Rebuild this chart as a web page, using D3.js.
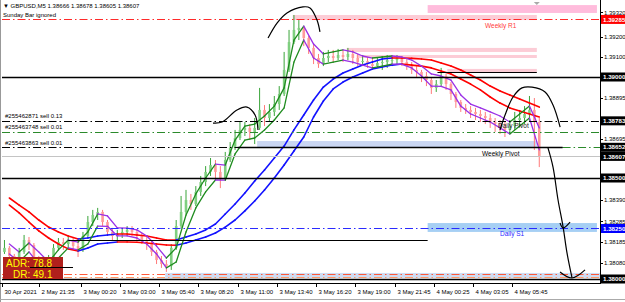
<!DOCTYPE html>
<html>
<head>
<meta charset="utf-8">
<script src="https://cdn.jsdelivr.net/npm/d3@7"></script>
<style>
html,body{margin:0;padding:0;background:#fff;overflow:hidden;}
svg{display:block;font-family:"Liberation Sans",Arial,sans-serif;}
</style>
</head>
<body>
<svg id="chart" width="625" height="302"></svg>
<script>
// ── GBPUSD M5 snapshot ──
// one candle = 4 five-minute bars (bar index 4k..4k+3); open = previous close
const firstOpen=1.38134;
const closes=[1.38154,1.38114,1.38084,1.38134,1.38193,1.38168,1.38104,1.38055,1.38045,1.38104,
1.38154,1.38183,1.38173,1.38193,1.38163,1.38144,1.38213,1.38282,1.38317,1.38332,
1.38282,1.38233,1.38213,1.38223,1.38233,1.38243,1.38233,1.38213,1.38193,1.38173,
1.38134,1.38094,1.38074,1.38064,1.38154,1.38262,1.38332,1.38391,1.38371,1.38431,
1.3848,1.3853,1.38564,1.3853,1.385,1.38589,1.38649,1.38698,1.38738,1.38748,
1.38728,1.38748,1.38837,1.38797,1.38827,1.38866,1.38916,1.39035,1.39173,1.39233,
1.39243,1.39193,1.39144,1.39094,1.39064,1.39094,1.39104,1.39094,1.39109,1.39099,
1.39114,1.39094,1.39074,1.39079,1.39064,1.39054,1.39069,1.39074,1.39084,1.39084,
1.39094,1.39074,1.39054,1.39035,1.39025,1.39005,1.38985,1.38946,1.38965,1.39005,
1.38965,1.38916,1.38876,1.38847,1.38837,1.38827,1.38817,1.38807,1.38797,1.38777,
1.38767,1.38748,1.38738,1.38757,1.38787,1.38797,1.38817,1.38837,1.38777,1.38607];
const highs=[1.38193,1.38163,1.38124,1.38154,1.38218,1.38208,1.38178,1.38114,1.38074,1.38119,
1.38173,1.38203,1.38203,1.38213,1.38203,1.38183,1.38233,1.38312,1.38342,1.38352,
1.38342,1.38292,1.38253,1.38243,1.38253,1.38262,1.38262,1.38243,1.38228,1.38213,
1.38193,1.38144,1.38114,1.38094,1.38173,1.38292,1.38411,1.38441,1.38421,1.3846,
1.3851,1.38559,1.38599,1.38589,1.38559,1.38629,1.38678,1.38738,1.38777,1.38777,
1.38767,1.38797,1.38946,1.38861,1.38866,1.38906,1.38955,1.39124,1.39233,1.39307,
1.39282,1.39252,1.39203,1.39163,1.39114,1.39124,1.39134,1.39134,1.39139,1.39134,
1.39144,1.39134,1.39114,1.39109,1.39099,1.39094,1.39099,1.39104,1.39109,1.39109,
1.39109,1.39104,1.39094,1.39074,1.39054,1.39035,1.39025,1.38995,1.38985,1.39045,
1.39015,1.38975,1.38926,1.38886,1.38866,1.38856,1.38847,1.38837,1.38827,1.38817,
1.38797,1.38787,1.38777,1.38787,1.38827,1.38837,1.38856,1.38906,1.38896,1.38797];
const lows=[1.38124,1.38084,1.38055,1.38074,1.38124,1.38144,1.38084,1.38035,1.38015,1.38035,
1.38094,1.38144,1.38144,1.38154,1.38144,1.38109,1.38134,1.38203,1.38262,1.38292,
1.38262,1.38213,1.38193,1.38193,1.38203,1.38213,1.38213,1.38193,1.38173,1.38144,
1.38114,1.38074,1.38055,1.38035,1.38045,1.38144,1.38253,1.38322,1.38342,1.38361,
1.38411,1.3846,1.3851,1.3849,1.3845,1.3849,1.38579,1.38639,1.38688,1.38708,
1.38688,1.38668,1.38738,1.38757,1.38777,1.38807,1.38837,1.38906,1.39025,1.39163,
1.39183,1.39153,1.39114,1.39064,1.39045,1.39054,1.39074,1.39074,1.39084,1.39074,
1.39084,1.39064,1.39054,1.39054,1.39045,1.39035,1.39045,1.39035,1.39045,1.39054,
1.39064,1.39054,1.39035,1.39015,1.38995,1.38975,1.38955,1.38916,1.38926,1.38955,
1.38936,1.38886,1.38847,1.38827,1.38817,1.38797,1.38787,1.38777,1.38767,1.38748,
1.38728,1.38718,1.38703,1.38718,1.38738,1.38757,1.38767,1.38777,1.38639,1.38554];

// MA pairs (high/low), one sample per 2 candles — coloured by slope when drawn
const slowHi=[1.38401,1.38366,1.38332,1.38292,1.38257,1.38233,1.38213,1.38198,1.38203,1.38213,
1.38218,1.38223,1.38223,1.38218,1.38213,1.38203,1.38193,1.38193,1.38208,1.38223,
1.38243,1.38272,1.38322,1.38371,1.38426,1.38485,1.3854,1.38599,1.38658,1.38738,
1.38812,1.38886,1.3895,1.3899,1.3902,1.3904,1.39059,1.39074,1.39089,1.39094,
1.39094,1.39092,1.39089,1.39084,1.39069,1.39054,1.39035,1.3901,1.38985,1.38955,
1.38931,1.38911,1.38891,1.38871,1.38851];
const slowLo=[1.38366,1.38327,1.38282,1.38238,1.38203,1.38173,1.38149,1.38139,1.38154,1.38173,
1.38178,1.38183,1.38183,1.38182,1.38178,1.38173,1.38168,1.38167,1.38178,1.38193,
1.38208,1.38228,1.38257,1.38292,1.38337,1.38386,1.38441,1.385,1.38564,1.38634,
1.38703,1.38802,1.38881,1.38941,1.38975,1.39,1.3902,1.3904,1.3905,1.39059,
1.39064,1.39059,1.39054,1.39045,1.3903,1.39015,1.3899,1.38965,1.38936,1.38901,
1.38871,1.38847,1.38832,1.38817,1.38802];
const fastHi=[1.38173,1.38134,1.38178,1.38134,1.38084,1.38144,1.38193,1.38183,1.38233,1.38322,
1.38312,1.38253,1.38252,1.38243,1.38213,1.38163,1.38104,1.38154,1.38317,1.38421,
1.385,1.38569,1.38564,1.38688,1.38757,1.38767,1.38807,1.38856,1.38946,1.39183,
1.39252,1.39163,1.39114,1.39124,1.39134,1.39124,1.39104,1.39094,1.39099,1.39104,
1.39099,1.39084,1.39054,1.39015,1.39005,1.38985,1.38911,1.38866,1.38847,1.38827,
1.38807,1.38777,1.38817,1.38856,1.38748];
const fastLo=[1.38124,1.38084,1.38134,1.38074,1.38045,1.38104,1.38154,1.38144,1.38173,1.38262,
1.38261,1.38213,1.38213,1.38203,1.38173,1.38124,1.38055,1.38084,1.38233,1.38352,
1.38431,1.3849,1.38489,1.38619,1.38688,1.38698,1.38738,1.38787,1.38847,1.39074,
1.39183,1.39094,1.39064,1.39074,1.39084,1.39074,1.39059,1.39045,1.39054,1.39064,
1.39063,1.39045,1.39005,1.38955,1.38954,1.38936,1.38856,1.38817,1.38797,1.38777,
1.38748,1.38718,1.38757,1.38797,1.38639];

// axes
const priceTicks=[1.3808,1.38185,1.38285,1.3839,1.38695,1.38895,1.391,1.392,1.3932];
const boxPrices=[1.39285,1.39,1.38783,1.38652,1.38607,1.385,1.3825,1.38];
const timeTickBars=[0,30,64,96,128,160,192,224,256,288,320,352,384,416];
const timeTickLabels=['30 Apr 2021','2 May 21:35','3 May 00:20','3 May 03:00','3 May 05:40','3 May 08:20',
'3 May 11:00','3 May 13:40','3 May 16:20','3 May 19:00','3 May 21:45','4 May 00:25','4 May 03:05','4 May 05:45'];

// chart objects: zones [barFrom, barTo, priceTop, priceBottom]
const pinkZones=[[347,485,1.39356,1.39317],[237,436,1.39307,1.39282],[281,436,1.39144,1.39124],[289,436,1.39109,1.39094],[363,436,1.3904,1.39025]];
const pivotZone=[208,436,1.38683,1.38653];
const s1Zone=[347,485,1.38277,1.38233];
const lowZone=[133,487.5,1.3803,1.38005];
// levels
const weeklyR1=1.39285, roundLevels=[1.39,1.385,1.38], orderLevels=[1.38783,1.38652], tpLevel=1.3873;
const bidLevel=1.38607, dailyS1=1.3825, lowLevels=[1.38025,1.38012];
const weeklyPivot=1.38652, shortLines=[[355,436,1.39025],[54,347,1.38193]];
const orderLabels=['#255462871 sell 0.13','#255463748 sell 0.01','#255463863 sell 0.01'];
const header='▼ GBPUSD,M5  1.38666 1.38678 1.38605 1.38607';
const adr=78.8, dr=49.1;

// hand-drawn annotations, [bar, price]
const drawings=[
 [[216.9,1.39193],[224.2,1.39267],[232.3,1.39317],[245.4,1.39347],[251.1,1.39342],[256.8,1.39282],[259.2,1.39223]],
 [[172,1.38772],[179.4,1.38777],[191.6,1.38837],[199.7,1.38851],[206.3,1.38812],[208.7,1.38738]],
 [[406,1.38738],[410.1,1.38812],[416.6,1.38901],[423.9,1.38946],[432.1,1.3895],[442.7,1.38926],[449.2,1.38861],[455,1.38752]],
 [[445.1,1.38649],[449.2,1.38554],[453.3,1.38391],[457.4,1.38258],[460.6,1.38129],[464.7,1.38005]],
 [[454.9,1.38277],[457.4,1.38253],[463.1,1.38282]],
 [[454.9,1.38035],[464.7,1.38005],[475.3,1.38045]]
];

const W=625,H=302,PL=2,PR=600,PT=2,PB=283;
const svg=d3.select('#chart');
const x=d3.scaleLinear().domain([0,487.5]).range([PL,PR]);
const y=d3.scaleLinear().domain([1.38,1.39]).range([279,77]);
const DASHDOT='8,3,1.5,3';

svg.append('defs').append('clipPath').attr('id','plot')
  .append('rect').attr('x',PL).attr('y',PT).attr('width',PR-PL).attr('height',PB-PT);
const g=svg.append('g').attr('clip-path','url(#plot)');

// ── zones (background) ──
function zone(z,fill){
  g.append('rect').attr('x',x(z[0])).attr('y',y(z[2]))
    .attr('width',x(z[1])-x(z[0])).attr('height',y(z[3])-y(z[2])).attr('fill',fill);
}
pinkZones.forEach((z,i)=>zone(z,i===0?'#ffbcdc':'#fcccd6'));
zone(pivotZone,'#cad6f2');
zone(s1Zone,'#a6cff4');
zone(lowZone,'#cfdcf2');

// ── candles ──
const candles=closes.map((c,k)=>({bar:4*k+2,o:k?closes[k-1]:firstOpen,h:highs[k],l:lows[k],c}));
const cg=g.append('g');
cg.selectAll('line').data(candles).join('line')
  .attr('x1',d=>x(d.bar)).attr('x2',d=>x(d.bar))
  .attr('y1',d=>y(Math.max(d.h,d.o,d.c))).attr('y2',d=>y(Math.min(d.l,d.o,d.c)))
  .attr('stroke',d=>d.c>=d.o?'#3aa53a':'#ff7a7a').attr('stroke-width',1);
cg.selectAll('rect').data(candles).join('rect')
  .attr('x',d=>x(d.bar)-1.3).attr('width',2.6)
  .attr('y',d=>y(Math.max(d.o,d.c))).attr('height',d=>Math.max(0.8,Math.abs(y(d.o)-y(d.c))))
  .attr('fill',d=>d.c>=d.o?'#7fcf7f':'#ff9a9a');

// ── MA pairs, coloured by slope ──
function maPair(vals,up,down,w){
  const segs=d3.pairs(vals.map((v,j)=>({bar:8*j+6,v})));
  g.append('g').selectAll('line').data(segs).join('line')
    .attr('x1',d=>x(d[0].bar)).attr('y1',d=>y(d[0].v))
    .attr('x2',d=>x(d[1].bar)).attr('y2',d=>y(d[1].v))
    .attr('stroke',d=>d[1].v>d[0].v?up:down)
    .attr('stroke-width',w).attr('stroke-linecap','round');
}
maPair(slowHi,'#1212ff','#ff0000',1.6);
maPair(slowLo,'#1212ff','#ff0000',1.6);
maPair(fastHi,'#1f8c1f','#9b30e6',1.3);
maPair(fastLo,'#1f8c1f','#9b30e6',1.3);

// ── horizontal levels ──
function hline(p,b0,b1,color,w,dash){
  g.append('line').attr('x1',x(b0)).attr('x2',x(b1)).attr('y1',Math.round(y(p))+0.5).attr('y2',Math.round(y(p))+0.5)
    .attr('stroke',color).attr('stroke-width',w).attr('stroke-dasharray',dash||null);
}
const full=[0,487.5];
hline(weeklyR1,...full,'#ff2a2a',1,DASHDOT);
roundLevels.forEach(p=>hline(p,...full,'#000',1.6));
shortLines.forEach(s=>hline(s[2],s[0],s[1],'#000',1.2));
hline(orderLevels[0],...full,'#000',1,DASHDOT);
hline(tpLevel,...full,'#2b8a2b',1,DASHDOT);
hline(orderLevels[1],0,457,'#000',1,DASHDOT);
hline(orderLevels[1],457,487.5,'#2b8a2b',1,DASHDOT);
hline(weeklyPivot,192,457,'#000',1.6);
hline(bidLevel,...full,'#c4c4c4',1);
hline(dailyS1,...full,'#2a2aff',1,DASHDOT);
hline(lowLevels[0],...full,'#ff5a3a',1,DASHDOT);
hline(lowLevels[1],...full,'#ff9a6a',1,DASHDOT);

// ── labels on chart ──
function txt(s,tx,ty,fill,size){
  return svg.append('text').attr('x',tx).attr('y',ty).attr('fill',fill||'#000')
    .attr('font-size',size||6).text(s);
}
txt(header,3,8);
txt('Sunday Bar ignored',3,16.5);
txt('Weekly R1',485,28,'#ff3a3a',6.5);
orderLabels.forEach((s,i)=>txt(s,5,y([orderLevels[0],tpLevel,orderLevels[1]][i])-2.5));
txt('Daily Pivot',498,128,'#222',6.5);
txt('Weekly Pivot',482,156,'#000',6.5);
txt('Daily S1',500,236,'#2a2aff',6.5);

// ADR panel
svg.append('rect').attr('x',3).attr('y',257).attr('width',60).attr('height',22).attr('fill','#b0201c');
svg.append('line').attr('x1',30).attr('x2',73).attr('y1',267.5).attr('y2',267.5).attr('stroke','#000').attr('stroke-width',1);
txt('ADR: '+adr.toFixed(1),6,267,'#ffff00',10);
txt('DR: '+dr.toFixed(1),13,277.5,'#ffff00',10);

// ── hand drawings ──
const dl=d3.line().x(d=>x(d[0])).y(d=>y(d[1])).curve(d3.curveCatmullRom);
svg.append('g').selectAll('path').data(drawings).join('path')
  .attr('d',dl).attr('fill','none').attr('stroke','#000').attr('stroke-width',1.2);

// shift marker
svg.append('path').attr('d',`M${x(436)-3},2L${x(436)+3},2L${x(436)},5Z`).attr('fill','#aaa');

// ── frame & axes ──
svg.append('line').attr('x1',0.5).attr('x2',0.5).attr('y1',0).attr('y2',H).attr('stroke','#999');
svg.append('line').attr('x1',PR+0.5).attr('x2',PR+0.5).attr('y1',0).attr('y2',PB).attr('stroke','#000');
svg.append('line').attr('x1',0).attr('x2',PR+1).attr('y1',PB+0.5).attr('y2',PB+0.5).attr('stroke','#000');

const ya=svg.append('g');
priceTicks.forEach(p=>{
  ya.append('line').attr('x1',PR).attr('x2',PR+3).attr('y1',Math.round(y(p))+0.5).attr('y2',Math.round(y(p))+0.5).attr('stroke','#000');
  ya.append('text').attr('x',PR+4).attr('y',y(p)+2.2).attr('font-size',6).text(p.toFixed(5));
});
boxPrices.forEach(p=>{
  const bg=p===weeklyR1?'#ff0000':p===dailyS1?'#0000ff':'#000';
  ya.append('rect').attr('x',PR+1).attr('y',y(p)-4.5).attr('width',W-PR).attr('height',9).attr('fill',bg);
  ya.append('text').attr('x',PR+3).attr('y',y(p)+2.2).attr('font-size',6.2).attr('font-weight','bold')
    .attr('fill','#fff').text(p.toFixed(5));
});

const xa=svg.append('g');
timeTickBars.forEach((b,i)=>{
  const tx=Math.round(x(b))+0.5;
  xa.append('line').attr('x1',tx).attr('x2',tx).attr('y1',PB).attr('y2',PB+4).attr('stroke','#000');
  xa.append('text').attr('x',tx+2).attr('y',293.5).attr('font-size',6).text(timeTickLabels[i]);
});
svg.append('line').attr('x1',0).attr('x2',W).attr('y1',299.5).attr('y2',299.5).attr('stroke','#aaa');
</script>
</body>
</html>
